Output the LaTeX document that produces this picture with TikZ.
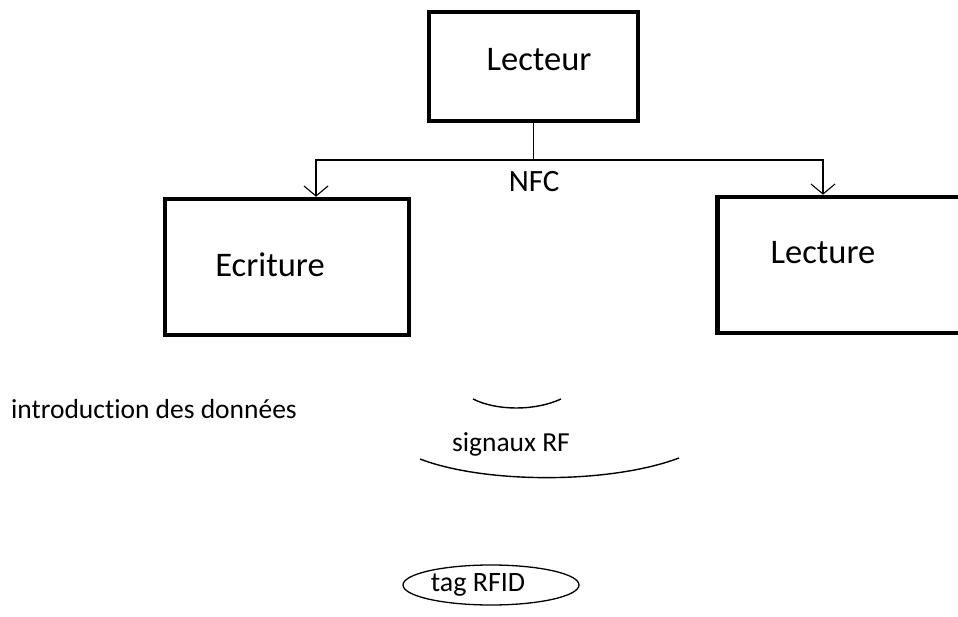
\documentclass[tikz,border=0pt]{standalone}
\usepackage{fontspec}
\setmainfont{Carlito}[Ligatures={NoCommon,NoContextual}]
\usetikzlibrary{arrows.meta,shapes.geometric}
\tikzset{
  bigbox/.style={draw, line width=4.5pt, inner sep=0pt},
  conn/.style={line width=1.2pt},
  arr/.style={conn, -{Straight Barb[length=10pt,width=24pt,line width=1.1pt]}},
  bigtxt/.style={font=\fontsize{34.5}{40}\selectfont, inner sep=0pt},
  midtxt/.style={font=\fontsize{31}{36}\selectfont, inner sep=0pt},
  smalltxt/.style={font=\fontsize{27.5}{32}\selectfont, inner sep=0pt},
  wave/.style={line width=1.4pt},
}
\begin{document}
\begin{tikzpicture}[x=1pt,y=-1pt]
\useasboundingbox (0,0) rectangle (958,617);
\clip (0,0) rectangle (958,617);
\fill[white] (0,0) rectangle (958,617);
% boxes
\node[bigbox, minimum width=209pt, minimum height=109pt] (lecteur) at (533.5,66.5) {};
\node[bigbox, minimum width=244pt, minimum height=136pt] (ecriture) at (287,267) {};
\node[bigbox, minimum width=270pt, minimum height=136pt, anchor=west] (lecture) at (715,265) {};
% texts
\node[bigtxt] (tlecteur) at (539,60) {Lecteur};
\node[bigtxt] (tecriture) at (270,265) {Ecriture};
\node[bigtxt] (tlecture) at (823,253) {Lecture};
\node[midtxt] (nfc) at (534,182) {NFC};
\node[smalltxt, anchor=west] (intro) at (11,409) {introduction des données};
\node[smalltxt] (signaux) at (511,444) {signaux RF};
% connectors
\coordinate (split) at (lecteur.south |- 0,160);
\draw[conn] (lecteur.south) -- (split);
\draw[arr] (split) -| ([xshift=29pt]ecriture.north);
\draw[arr] (split) -| ([xshift=108pt]lecture.north west);
% RF waves
\coordinate (w1a) at (473,399);
\coordinate (w1b) at (561,399);
\coordinate (w2a) at (420,459);
\coordinate (w2b) at (679,458);
\draw[wave] (w1a) .. controls (497,411) and (535,411) .. (w1b);
\draw[wave] (w2a) .. controls (485,484) and (610,484) .. (w2b);
% tag
\node[draw, ellipse, line width=1.3pt, minimum width=176pt, minimum height=40pt, inner sep=0pt] (tag) at (491,585) {};
\node[smalltxt, font=\fontsize{28}{32}\selectfont] (ttag) at (478,585) {tag RFID};
\end{tikzpicture}
\end{document}
